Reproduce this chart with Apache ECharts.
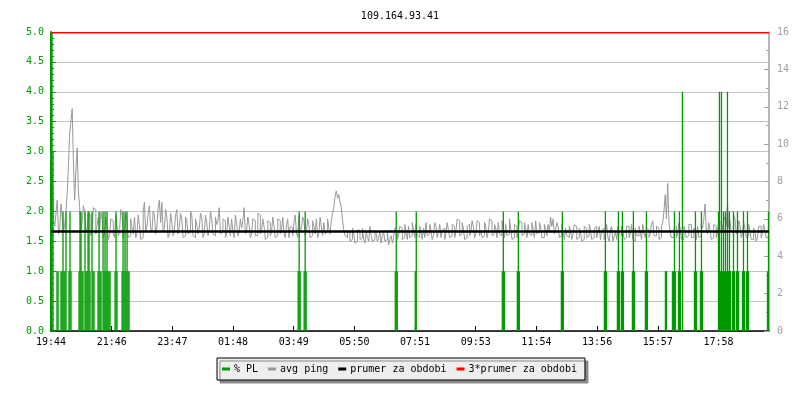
<!DOCTYPE html>
<html>
<head>
<meta charset="utf-8">
<script src="https://cdn.jsdelivr.net/npm/echarts@6/dist/echarts.min.js"></script>
<style>html,body{margin:0;padding:0;background:#fff}#c{width:800px;height:400px}</style>
</head>
<body>
<div id="c"></div>
<script>
// ---- data ----
const chartTitle = '109.164.93.41';
const timeLabels = ['19:44','21:46','23:47','01:48','03:49','05:50','07:51','09:53','11:54','13:56','15:57','17:58'];
const spanMinutes = 1435;          // time span shown on x axis (minutes from 19:44)
const labelStep = 121.27;          // minutes between time labels
const pingStep = 2.49;             // minutes between ping samples

// avg ping (ms), one value per ~2.5 minutes
const pingValues = [
  9.5, 9.2, 8.2, 6.0, 5.6, 6.3, 7.0, 5.2, 5.4, 6.8, 6.1, 5.3, 5.7, 6.4, 7.4, 8.9, 10.6, 11.2, 11.9, 9.0,
  7.0, 8.6, 9.8, 7.5, 6.6, 5.4, 5.8, 6.7, 6.4, 5.3, 5.5, 6.3, 6.2, 5.1, 5.4, 6.6, 6.5, 5.2, 5.7, 6.1,
  5.3, 6.4, 6.0, 5.0, 5.2, 6.1, 5.6, 4.9, 5.1, 6.0, 5.9, 5.2, 5.0, 6.2, 5.6, 5.1, 5.3, 6.5, 6.2, 5.0,
  5.4, 6.3, 5.8, 5.0, 5.1, 6.0, 5.5, 5.2, 6.1, 5.0, 5.2, 6.2, 5.7, 4.9, 5.0, 6.4, 6.9, 5.3, 5.6, 6.3,
  6.7, 5.5, 5.3, 6.4, 6.2, 5.2, 5.6, 6.6, 7.0, 5.8, 6.9, 5.3, 5.5, 6.5, 6.1, 5.0, 5.2, 6.3, 5.8, 5.1,
  5.4, 6.2, 6.5, 5.2, 5.6, 6.3, 6.0, 5.0, 5.1, 6.1, 5.9, 5.2, 5.3, 6.4, 6.2, 5.1, 5.0, 6.0, 5.7, 5.2,
  5.5, 6.3, 6.1, 5.0, 5.2, 6.2, 5.8, 5.1, 5.4, 6.4, 6.0, 5.2, 5.1, 6.1, 5.7, 5.9, 6.6, 5.2, 5.3, 6.0,
  5.9, 5.0, 5.2, 6.1, 5.6, 5.1, 6.0, 5.3, 5.0, 6.2, 5.8, 5.1, 5.3, 6.0, 5.5, 5.9, 6.6, 5.2, 5.4, 6.1,
  5.7, 5.0, 5.2, 6.0, 5.9, 5.1, 5.1, 6.3, 6.2, 5.2, 5.4, 6.0, 5.6, 4.9, 5.0, 5.9, 5.8, 5.1, 5.3, 6.1,
  5.6, 5.0, 5.1, 6.0, 5.9, 5.2, 5.4, 6.1, 5.2, 5.0, 5.7, 6.0, 5.0, 5.6, 5.5, 5.1, 5.8, 6.2, 5.3, 5.0,
  6.2, 5.3, 5.5, 6.1, 5.9, 5.1, 5.3, 6.0, 5.7, 5.0, 5.1, 5.9, 5.6, 5.2, 6.0, 5.0, 5.2, 6.1, 5.6, 5.1,
  5.8, 5.2, 5.3, 6.0, 5.5, 5.2, 5.9, 6.3, 6.6, 7.2, 7.5, 7.1, 7.3, 6.9, 6.6, 5.9, 5.4, 5.1, 5.0, 5.3,
  5.3, 4.8, 4.9, 5.5, 5.2, 4.7, 4.8, 5.4, 5.4, 4.9, 5.0, 5.5, 4.9, 4.7, 5.3, 5.0, 4.8, 5.6, 5.1, 4.8,
  4.9, 5.4, 5.2, 4.8, 5.0, 5.3, 4.7, 5.1, 5.3, 4.8, 4.9, 5.4, 4.6, 4.9, 5.1, 4.7, 5.0, 5.5, 5.4, 4.9,
  5.1, 5.6, 5.5, 4.9, 5.0, 5.7, 5.3, 4.9, 5.6, 5.0, 5.1, 5.8, 5.4, 5.0, 5.7, 5.1, 5.0, 5.6, 5.3, 4.9,
  5.5, 5.0, 5.8, 5.1, 5.2, 5.7, 5.4, 4.9, 5.1, 5.8, 5.6, 5.0, 5.3, 5.7, 5.0, 5.4, 5.5, 4.9, 5.2, 5.8,
  5.4, 5.0, 5.1, 5.7, 5.6, 5.0, 5.3, 6.0, 5.9, 5.1, 5.2, 5.8, 5.5, 4.9, 5.0, 5.6, 5.7, 5.1, 5.3, 5.9,
  5.6, 5.0, 5.2, 5.9, 5.8, 5.1, 5.4, 5.0, 5.1, 5.8, 5.6, 5.0, 5.3, 6.0, 5.9, 5.1, 5.2, 5.7, 5.5, 5.0,
  5.8, 5.2, 5.1, 5.9, 5.4, 5.0, 5.7, 5.1, 5.2, 6.0, 5.5, 4.9, 5.0, 5.7, 5.6, 5.0, 5.3, 5.9, 5.8, 5.1,
  5.2, 5.8, 5.5, 5.0, 5.7, 5.2, 5.1, 5.8, 5.4, 5.0, 5.9, 5.2, 5.3, 5.8, 5.6, 5.0, 5.0, 5.7, 5.5, 5.1,
  5.7, 5.3, 6.1, 5.6, 6.0, 5.2, 5.4, 5.8, 5.6, 5.0, 5.1, 5.7, 5.3, 4.9, 5.5, 5.1, 5.0, 5.6, 5.4, 4.9,
  5.2, 5.7, 5.6, 4.9, 5.0, 5.5, 5.3, 4.8, 4.9, 5.6, 5.5, 5.0, 5.1, 5.7, 5.4, 4.9, 5.0, 5.5, 5.6, 5.0,
  5.3, 5.6, 4.9, 5.4, 5.5, 4.9, 5.2, 5.7, 5.0, 4.8, 5.4, 5.6, 4.8, 5.1, 5.3, 4.9, 5.6, 5.2, 5.1, 5.6,
  5.4, 4.9, 5.0, 5.6, 5.6, 5.0, 5.2, 5.7, 4.9, 4.8, 5.5, 5.1, 5.1, 5.6, 5.3, 4.9, 5.7, 5.2, 5.0, 5.5,
  5.4, 5.0, 5.2, 5.7, 5.9, 5.1, 5.1, 5.6, 5.5, 4.9, 5.0, 5.6, 5.8, 6.4, 7.3, 6.0, 7.9, 5.8, 5.3, 5.0,
  5.0, 5.5, 5.6, 5.0, 5.2, 5.8, 5.5, 4.9, 4.9, 5.6, 5.4, 5.0, 5.1, 5.7, 5.7, 5.0, 5.0, 5.5, 5.3, 4.9,
  5.6, 5.0, 5.1, 5.7, 5.5, 6.0, 6.8, 5.4, 5.2, 5.8, 5.4, 4.9, 5.0, 5.7, 5.6, 5.0, 5.3, 5.9, 5.8, 5.2,
  5.5, 5.9, 6.1, 5.6, 6.8, 5.5, 5.9, 5.3, 5.4, 6.2, 6.0, 5.2, 5.3, 5.9, 5.7, 5.0, 5.2, 5.8, 5.5, 5.0,
  5.1, 5.7, 5.4, 4.9, 4.9, 5.5, 5.3, 4.8, 5.0, 5.6, 5.6, 5.0, 5.2, 5.7, 5.4, 5.0
];

// packet loss events: minute from start, % PL
const plMinutes = [
  0, 2, 4, 12, 14, 20, 22, 24, 26, 28, 30, 36, 38, 40,
  56, 58, 60, 62, 64, 68, 70, 72, 74, 76, 78, 82, 84, 86,
  94, 96, 98, 100, 104, 106, 108, 110, 112, 114, 116, 118,
  128, 130, 132, 142, 144, 146, 148, 150, 152, 154, 156,
  494, 496, 498, 506, 508, 510, 688, 690, 692, 728, 730,
  902, 904, 906, 932, 934, 936, 1020, 1022, 1024,
  1106, 1108, 1110, 1132, 1134, 1136, 1140, 1142, 1144,
  1162, 1164, 1166, 1188, 1190, 1192, 1228, 1230,
  1242, 1244, 1246, 1248, 1254, 1256, 1258, 1262,
  1286, 1288, 1290, 1298, 1300, 1302,
  1334, 1336, 1338, 1340, 1342, 1344, 1346, 1348, 1350, 1352, 1354, 1356, 1358,
  1362, 1364, 1366, 1370, 1372, 1374, 1382, 1384, 1386, 1390, 1392, 1394,
  1432, 1434
];
const plValues = [
  5, 5, 3, 1, 1, 1, 1, 2, 1, 1, 2, 1, 2, 1,
  1, 2, 2, 1, 1, 2, 1, 1, 2, 2, 1, 2, 1, 1,
  1, 2, 1, 1, 2, 1, 2, 1, 2, 1, 1, 1,
  1, 2, 1, 1, 2, 1, 2, 1, 2, 1, 1,
  1, 2, 1, 1, 2, 1, 1, 2, 1, 1, 2,
  1, 2, 1, 1, 2, 1, 1, 2, 1,
  1, 2, 1, 1, 2, 1, 1, 2, 1,
  1, 2, 1, 1, 2, 1, 1, 1,
  1, 1, 2, 1, 1, 2, 1, 4,
  1, 2, 1, 1, 2, 1,
  2, 4, 1, 4, 1, 2, 1, 2, 1, 4, 1, 2, 1,
  1, 2, 1, 1, 2, 1, 1, 2, 1, 1, 2, 1,
  1, 2
];

const avgPing = 5.32;              // prumer za obdobi (ms)
const avgPing3 = 3 * avgPing;      // 3*prumer za obdobi

// ---- chart ----
const GREEN = '#009a00';
const GREY = '#a0a0a0';
const FONT = 'DejaVu Sans Mono';

const pingData = pingValues.map((v, i) => [i * pingStep, v]);
const plData = plMinutes.map((m, i) => [m, plValues[i]]);

const chart = echarts.init(document.getElementById('c'), null, {renderer: 'canvas'});
chart.setOption({
  animation: false,
  backgroundColor: '#ffffff',
  title: {
    text: chartTitle, left: 'center', top: 6,
    textStyle: {fontFamily: FONT, fontSize: 10, fontWeight: 'normal', color: '#000'}
  },
  grid: {left: 51, right: 31, top: 32, bottom: 69, containLabel: false},
  legend: {
    left: 217, top: 358, orient: 'horizontal',
    selectedMode: false,
    icon: 'rect', itemWidth: 8, itemHeight: 3, itemGap: 10,
    padding: [6, 8, 6, 5],
    backgroundColor: '#eeeeee', borderColor: '#000', borderWidth: 1,
    shadowColor: '#8a8a8a', shadowBlur: 0, shadowOffsetX: 3, shadowOffsetY: 3,
    textStyle: {fontFamily: FONT, fontSize: 10, color: '#000', padding: [0, 0, 0, -1]},
    data: ['% PL', 'avg ping', 'prumer za obdobi', '3*prumer za obdobi']
  },
  xAxis: {
    type: 'value', min: 0, max: spanMinutes, interval: labelStep,
    axisLine: {show: true, lineStyle: {color: '#000', width: 1.5}},
    axisTick: {show: true, inside: true, length: 5, lineStyle: {color: '#000'}},
    axisLabel: {
      fontFamily: FONT, fontSize: 10, color: '#000', margin: 6,
      showMaxLabel: false,
      formatter: function (v) {
        const k = Math.round(v / labelStep);
        return Math.abs(v - k * labelStep) < 0.05 && timeLabels[k] ? timeLabels[k] : '';
      }
    },
    splitLine: {show: false}
  },
  yAxis: [
    {
      type: 'value', position: 'left', min: 0, max: 5, interval: 0.5,
      axisLine: {show: true, lineStyle: {color: GREEN, width: 2}},
      axisTick: {show: true, inside: true, length: 5, lineStyle: {color: GREEN}},
      minorTick: {show: true, splitNumber: 5, length: 3, lineStyle: {color: GREEN}},
      axisLabel: {fontFamily: FONT, fontSize: 10, color: GREEN, margin: 7,
        formatter: v => v.toFixed(1)},
      splitLine: {show: true, lineStyle: {color: '#c4c4c4', width: 1}}
    },
    {
      type: 'value', position: 'right', min: 0, max: 16, interval: 2,
      axisLine: {show: true, lineStyle: {color: GREY, width: 1.5}},
      axisTick: {show: true, inside: true, length: 5, lineStyle: {color: GREY}},
      minorTick: {show: true, splitNumber: 2, length: 3, lineStyle: {color: GREY}},
      axisLabel: {fontFamily: FONT, fontSize: 10, color: GREY, margin: 8},
      splitLine: {show: false}
    }
  ],
  series: [
    {
      name: 'avg ping', type: 'line', yAxisIndex: 1, data: pingData,
      step: 'start', symbol: 'none', showSymbol: false, color: '#999999',
      lineStyle: {color: '#999999', width: 1}, z: 2
    },
    {
      name: '% PL', type: 'bar', yAxisIndex: 0, data: plData,
      barWidth: 1.3, color: GREEN, itemStyle: {color: GREEN}, z: 3
    },
    {
      name: 'prumer za obdobi', type: 'line', yAxisIndex: 1,
      data: [[0, avgPing], [spanMinutes, avgPing]],
      symbol: 'none', color: '#000', lineStyle: {color: '#000', width: 2.5}, z: 4
    },
    {
      name: '3*prumer za obdobi', type: 'line', yAxisIndex: 1,
      data: [[0, avgPing3], [spanMinutes, avgPing3]],
      symbol: 'none', color: '#ff0000', lineStyle: {color: '#ff0000', width: 1.5}, z: 4
    }
  ]
});
</script>
</body>
</html>
